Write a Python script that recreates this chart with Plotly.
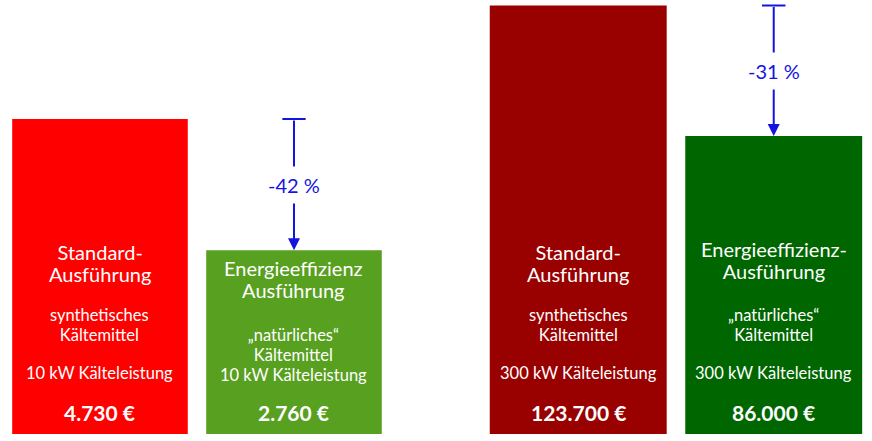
import plotly.graph_objects as go

# data
capacities = ['10 kW', '300 kW']
costs_10kw = [4730, 2760]
costs_300kw = [123700, 86000]
savings = ['-42 %', '-31 %']
titles = [['Standard-', 'Ausführung'], ['Energieeffizienz', 'Ausführung'],
          ['Standard-', 'Ausführung'], ['Energieeffizienz-', 'Ausführung']]
refrigerants = [['synthetisches', 'Kältemittel'], ['„natürliches“', 'Kältemittel'],
                ['synthetisches', 'Kältemittel'], ['„natürliches“', 'Kältemittel']]
bar_colors = [['#ff0000', '#58a01f'], ['#990000', '#006600']]

blue = '#1414e0'
font = 'Lato, "Open Sans", sans-serif'
plot_bottom = 434


def euro(v):
    return f'{v:,}'.replace(',', '.') + ' €'


def block(lines, size, bold=False):
    out = []
    for t in lines:
        if bold:
            t = '<b>' + t + '</b>'
        out.append(f'<span style="font-size:{size}px">{t}</span>')
    return '<br>'.join(out)


fig = go.Figure()

groups = [costs_10kw, costs_300kw]
for g, costs in enumerate(groups):
    xa = 'x' if g == 0 else 'x2'
    ya = 'y' if g == 0 else 'y2'
    fig.add_trace(go.Bar(x=[0, 1], y=costs, marker=dict(color=bar_colors[g], line=dict(width=0)),
                         xaxis=xa, yaxis=ya, hoverinfo='skip', showlegend=False))

    for i in range(2):
        b = g * 2 + i
        cap = capacities[g] + ' Kälteleistung'
        if b == 1:
            # compact layout: refrigerant and capacity in one block
            items = [(titles[b], 17, 20, 278.5, False),
                     (refrigerants[b] + [cap], 15.5, 16.5, 354.5, False),
                     ([euro(costs[i])], 21, 21, 412, True)]
        else:
            t_row = 260 if b == 3 else 262.5
            items = [(titles[b], 17, 20, t_row, False),
                     (refrigerants[b], 15.5, 16.5, 325, False),
                     ([cap], 16.5, 16.5, 373, False),
                     ([euro(costs[i])], 21, 21, 412, True)]
        for lines, base, size, row, bold in items:
            fig.add_annotation(x=i, y=0, xref=xa, yref=ya, text=block(lines, size, bold),
                               showarrow=False, yanchor='middle', yshift=plot_bottom - row,
                               font=dict(family=font, size=base, color='white'))

    # reduction arrow
    top, low = costs[0], costs[1]
    fig.add_shape(type='line', x0=0.94, x1=1.06, y0=top, y1=top, xref=xa, yref=ya,
                  line=dict(color=blue, width=2))
    fig.add_annotation(x=1, y=low, ax=1, ay=top, xref=xa, yref=ya, axref=xa, ayref=ya,
                       text='', showarrow=True, arrowhead=2, arrowsize=1.2, arrowwidth=2,
                       arrowcolor=blue, standoff=0)
    fig.add_annotation(x=1, y=(top + low) / 2, xref=xa, yref=ya, text=savings[g],
                       showarrow=False, bgcolor='white', borderpad=6,
                       font=dict(family=font, size=20, color=blue))

fig.update_layout(
    width=872, height=441,
    margin=dict(l=0, r=0, t=0, b=7),
    plot_bgcolor='white', paper_bgcolor='white',
    bargap=0.095,
    xaxis=dict(domain=[0.0034, 0.4484], range=[-0.5, 1.5], visible=False),
    xaxis2=dict(domain=[0.551, 0.9994], range=[-0.5, 1.5], visible=False),
    yaxis=dict(range=[0, 6517], visible=False),
    yaxis2=dict(range=[0, 125290], visible=False, anchor='x2'),
)

fig.write_html('out.html', config={'displayModeBar': False},
               post_script="document.body.style.margin='0';")
